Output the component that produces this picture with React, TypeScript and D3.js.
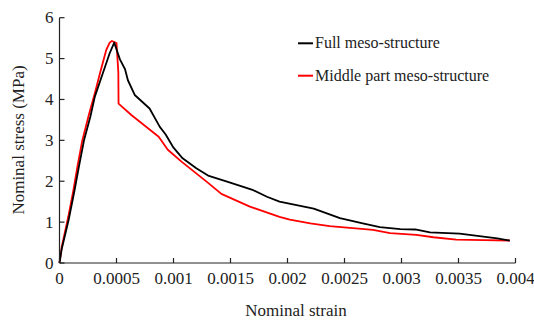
import React from "react";
import * as d3 from "d3";

// Stress–strain curves (strain, stress in MPa)
const fullStrain = [0, 0.00002, 0.00008, 0.00013, 0.00017, 0.000215, 0.00027, 0.00031, 0.00038, 0.00044, 0.00048, 0.00053, 0.000575, 0.0006, 0.00066, 0.00079, 0.00088, 0.00093, 0.001, 0.00108, 0.0012, 0.00131, 0.00147, 0.0017, 0.00182, 0.00193, 0.00223, 0.00246, 0.00266, 0.00281, 0.00299, 0.00312, 0.00325, 0.00351, 0.00384, 0.00395];
const fullStress = [0, 0.35, 1.05, 1.75, 2.35, 3.0, 3.57, 4.07, 4.64, 5.13, 5.39, 4.98, 4.74, 4.47, 4.11, 3.78, 3.33, 3.15, 2.82, 2.56, 2.32, 2.13, 1.99, 1.78, 1.62, 1.5, 1.33, 1.1, 0.97, 0.88, 0.83, 0.82, 0.75, 0.72, 0.6, 0.55];

const middleStrain = [0, 0.00002, 0.000077, 0.00012, 0.00016, 0.0002, 0.00026, 0.00031, 0.000355, 0.00041, 0.00044, 0.00046, 0.0005, 0.000516, 0.000518, 0.00063, 0.00087, 0.00095, 0.00107, 0.00129, 0.00142, 0.00167, 0.00193, 0.00202, 0.0022, 0.00237, 0.00275, 0.0029, 0.00313, 0.00328, 0.00348, 0.00372, 0.00395];
const middleStress = [0, 0.4, 1.13, 1.75, 2.4, 3.0, 3.65, 4.15, 4.64, 5.21, 5.39, 5.43, 5.38, 4.67, 3.9, 3.62, 3.09, 2.77, 2.48, 1.99, 1.69, 1.38, 1.13, 1.06, 0.97, 0.9, 0.81, 0.73, 0.69, 0.63, 0.57, 0.56, 0.55];

const xTicks = [0, 0.0005, 0.001, 0.0015, 0.002, 0.0025, 0.003, 0.0035, 0.004];
const xTickLabels = ["0", "0.0005", "0.001", "0.0015", "0.002", "0.0025", "0.003", "0.0035", "0.004"];
const yTicks = [0, 1, 2, 3, 4, 5, 6];

const seriesNames = ["Full meso-structure", "Middle part meso-structure"];
const seriesColors = ["#000000", "#ff0000"];

const W = 534;
const H = 322;
const FONT = "'Liberation Serif', 'Times New Roman', serif";

export default function App() {
  const x = d3.scaleLinear().domain([0, 0.004]).range([59.5, 515.5]);
  const y = d3.scaleLinear().domain([0, 6]).range([263, 17.7]);

  const line = d3
    .line<[number, number]>()
    .x((d) => x(d[0]))
    .y((d) => y(d[1]));

  const series: [number, number][][] = [
    fullStrain.map((s, i) => [s, fullStress[i]] as [number, number]),
    middleStrain.map((s, i) => [s, middleStress[i]] as [number, number]),
  ];

  const axisColor = "#222";

  return (
    <svg
      width={W}
      height={H}
      style={{ position: "absolute", left: 0, top: 0, background: "#fff", fontFamily: FONT }}
    >
      {/* curves */}
      {[1, 0].map((i) => (
        <path
          key={i}
          d={line(series[i]) || ""}
          fill="none"
          stroke={seriesColors[i]}
          strokeWidth={1.8}
          strokeLinejoin="round"
        />
      ))}

      {/* axes */}
      <line x1={x(0)} x2={x(0)} y1={y(6)} y2={y(0)} stroke={axisColor} strokeWidth={1.2} />
      <line x1={x(0)} x2={x(0.004)} y1={y(0)} y2={y(0)} stroke={axisColor} strokeWidth={1.2} />

      {xTicks.map((t, i) => (
        <g key={"x" + i}>
          <line x1={x(t)} x2={x(t)} y1={y(0)} y2={y(0) - 5} stroke={axisColor} strokeWidth={1.2} />
          <text x={x(t)} y={284} textAnchor="middle" fontSize={17} fill="#222">
            {xTickLabels[i]}
          </text>
        </g>
      ))}

      {yTicks.map((t) => (
        <g key={"y" + t}>
          <line x1={x(0)} x2={x(0) + 5} y1={y(t)} y2={y(t)} stroke={axisColor} strokeWidth={1.2} />
          <text x={53.5} y={y(t) + 5.5} textAnchor="end" fontSize={17} fill="#222">
            {t}
          </text>
        </g>
      ))}

      {/* axis titles */}
      <text x={296} y={316} textAnchor="middle" fontSize={17} fill="#222">
        Nominal strain
      </text>
      <text
        transform={`translate(24, 140) rotate(-90)`}
        textAnchor="middle"
        fontSize={17}
        fill="#222"
      >
        Nominal stress (MPa)
      </text>

      {/* legend */}
      {seriesNames.map((name, i) => (
        <g key={name} transform={`translate(298, ${43.3 + i * 32.4})`}>
          <line x1={0} x2={15} y1={0} y2={0} stroke={seriesColors[i]} strokeWidth={2} />
          <text x={17} y={5} fontSize={16} fill="#222">
            {name}
          </text>
        </g>
      ))}
    </svg>
  );
}
